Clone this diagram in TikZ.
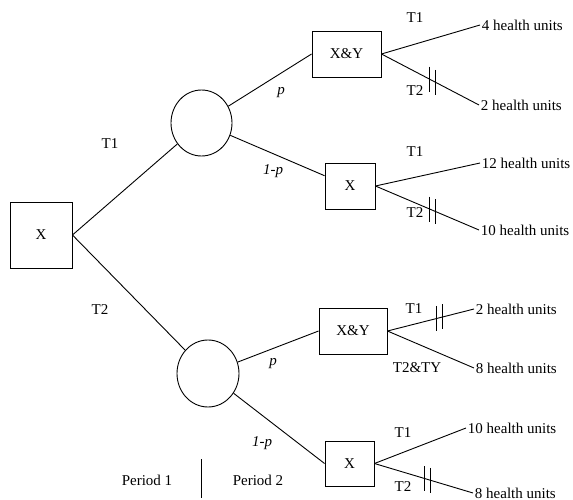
\documentclass[tikz,border=0pt]{standalone}
\usepackage{fontspec}
\setmainfont{Liberation Serif}
\usetikzlibrary{shapes.geometric}
\begin{document}
\begin{tikzpicture}[x=1pt,y=-1pt,line width=0.9pt,
  every node/.style={font=\rmfamily\fontsize{15}{17}\selectfont},
  dbox/.style={draw,rectangle,inner sep=0pt},
  chance/.style={draw,ellipse,inner sep=0pt},
  outcome/.style={anchor=west,inner sep=1.5pt},
  lbl/.style={inner sep=0pt}]
\useasboundingbox (0,0) rectangle (573,500);
% decision / chance nodes
\node[dbox,minimum width=62pt,minimum height=66pt] (root) at (41,235) {X};
\node[chance,minimum width=61pt,minimum height=66pt] (c1) at (201.5,123) {};
\node[chance,minimum width=62pt,minimum height=67pt] (c2) at (208,373.5) {};
\node[dbox,minimum width=69pt,minimum height=46pt] (b1) at (346.5,54) {X\&Y};
\node[dbox,minimum width=50pt,minimum height=46pt] (b2) at (350,186) {X};
\node[dbox,minimum width=68pt,minimum height=46pt] (b3) at (353,331) {X\&Y};
\node[dbox,minimum width=49pt,minimum height=45pt] (b4) at (349.5,463.5) {X};
% outcomes
\node[outcome] (o1) at (480,25) {4 health units};
\node[outcome] (o2) at (479,105) {2 health units};
\node[outcome] (o3) at (480,163) {12 health units};
\node[outcome] (o4) at (479,230) {10 health units};
\node[outcome] (o5) at (474,309) {2 health units};
\node[outcome] (o6) at (474,368) {8 health units};
\node[outcome] (o7) at (466,428) {10 health units};
\node[outcome] (o8) at (473,493) {8 health units};
% connectors
\draw (root.east) -- (c1);
\draw (root.east) -- (c2);
\draw (c1) -- (b1.west);
\draw (c1) -- (b2.158);
\draw (c2) -- (b3.west);
\draw (c2) -- (b4.west);
\draw (b1.east) -- (o1.west);
\draw (b1.east) -- coordinate[pos=0.495] (m1a) coordinate[pos=0.556] (m1b) (o2.west);
\draw (b2.east) -- (o3.west);
\draw (b2.east) -- coordinate[pos=0.524] (m2a) coordinate[pos=0.581] (m2b) (o4.west);
\draw (b3.east) -- coordinate[pos=0.57] (m3a) coordinate[pos=0.64] (m3b) (o5.west);
\draw (b3.east) -- (o6.west);
\draw (b4.east) -- (o7.west);
\draw (b4.east) -- coordinate[pos=0.51] (m4a) coordinate[pos=0.571] (m4b) (o8.west);
% double bars
\foreach \m in {m1a,m1b,m2a,m2b,m3a,m3b,m4a,m4b}
  \draw (\m) +(0,-12.5) -- +(0,12.5);
% labels
\node[lbl] (t1) at (110,144) {T1};
\node[lbl] (t2) at (100,310) {T2};
\node[lbl] (p1) at (281,93) {\textit{p}};
\node[lbl] (q1) at (273,171) {\textit{1-p}};
\node[lbl] (p2) at (273,364) {\textit{p}};
\node[lbl] (q2) at (262,443) {\textit{1-p}};
\node[lbl] (l1) at (415,18) {T1};
\node[lbl] (l2) at (415,91) {T2};
\node[lbl] (l3) at (415,152) {T1};
\node[lbl] (l4) at (415,213) {T2};
\node[lbl] (l5) at (414,309) {T1};
\node[lbl] (l6) at (417,368) {T2\&TY};
\node[lbl] (l7) at (403,433) {T1};
\node[lbl] (l8) at (403,487) {T2};
% periods
\node[lbl] (per1) at (147,480) {Period 1};
\node[lbl] (per2) at (258,480) {Period 2};
\coordinate (pa) at (201,459);
\coordinate (pb) at (201,498);
\draw (pa) -- (pb);
\end{tikzpicture}
\end{document}
